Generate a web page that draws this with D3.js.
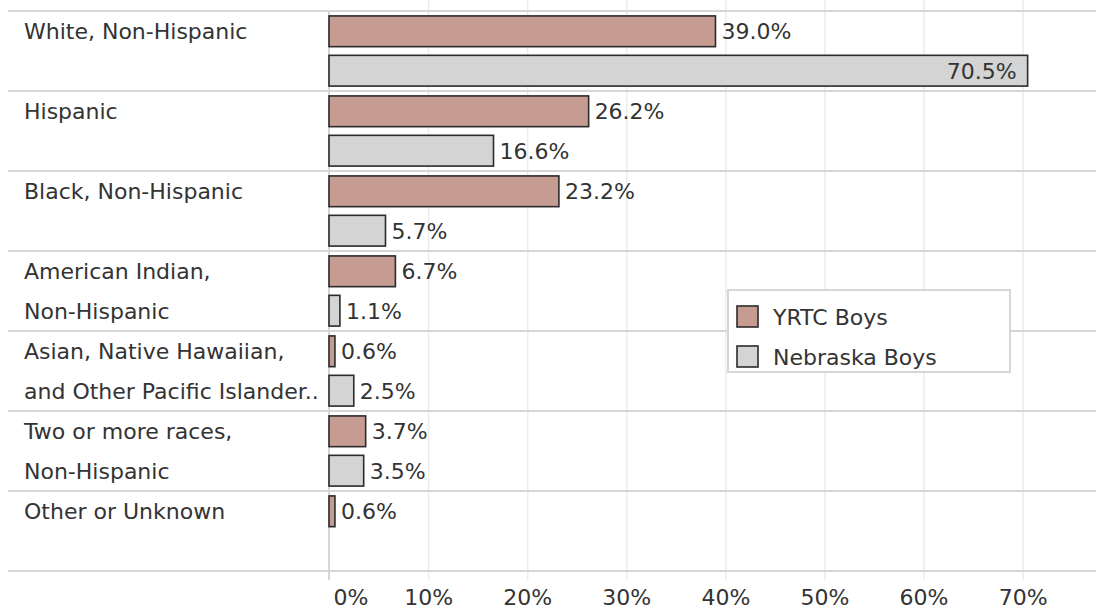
<!DOCTYPE html>
<html>
<head>
<meta charset="utf-8">
<script src="https://cdn.jsdelivr.net/npm/d3@7"></script>
<style>
  html, body { margin: 0; padding: 0; background: #ffffff; }
  svg { display: block; font-family: "DejaVu Sans", sans-serif; }
</style>
</head>
<body>
<svg id="chart" width="1096" height="612"></svg>
<script>
// ---- data ----
const categories = [
  "White, Non-Hispanic",
  "Hispanic",
  "Black, Non-Hispanic",
  "American Indian,\nNon-Hispanic",
  "Asian, Native Hawaiian,\nand Other Pacific Islander..",
  "Two or more races,\nNon-Hispanic",
  "Other or Unknown"
];
const seriesNames = ["YRTC Boys", "Nebraska Boys"];
const yrtcValues = [39.0, 26.2, 23.2, 6.7, 0.6, 3.7, 0.6];
const nebraskaValues = [70.5, 16.6, 5.7, 1.1, 2.5, 3.5, null];
const tickValues = [0, 10, 20, 30, 40, 50, 60, 70];
const seriesColors = ["#c59b92", "#d4d4d4"];

// ---- layout ----
const W = 1096, H = 612;
const fontSize = 22;
const textColor = "#333333";
const svg = d3.select("#chart");

const x = d3.scaleLinear().domain([0, 77.4]).range([329, 1096]);
const y = d3.scaleBand().domain(categories).range([11, 571]);
const ySub = d3.scaleBand().domain(seriesNames).range([0, y.bandwidth()])
  .paddingInner(0.22).paddingOuter(0.125);
const color = d3.scaleOrdinal().domain(seriesNames).range(seriesColors);

const rows = categories.map((c, i) => ({
  cat: c,
  values: [
    { s: seriesNames[0], v: yrtcValues[i] },
    { s: seriesNames[1], v: nebraskaValues[i] }
  ]
}));

// gridlines (via axis)
const grid = svg.append("g")
  .attr("transform", "translate(0,580)")
  .call(d3.axisBottom(x).tickValues(tickValues.slice(1)).tickSize(-580).tickFormat(""));
grid.select(".domain").remove();
grid.selectAll("line").attr("stroke", "#ececec").attr("stroke-width", 1.5);

// row separators
svg.append("g").selectAll("line")
  .data(categories.map(c => y(c)).concat([y.range()[1]]))
  .join("line")
  .attr("x1", 8).attr("x2", W)
  .attr("y1", d => d).attr("y2", d => d)
  .attr("stroke", "#d6d6d6").attr("stroke-width", 2);

// zero line
svg.append("line")
  .attr("x1", x(0)).attr("x2", x(0))
  .attr("y1", 11).attr("y2", 580)
  .attr("stroke", "#d6d6d6").attr("stroke-width", 2);

// category labels
const catG = svg.append("g");
categories.forEach(c => {
  const lines = c.split("\n");
  lines.forEach((ln, k) => {
    catG.append("text")
      .attr("x", 24)
      .attr("y", y(c) + ySub(seriesNames[k]) + ySub.bandwidth() / 2 + 8)
      .attr("font-size", fontSize)
      .attr("fill", textColor)
      .text(ln);
  });
});

// bars
const rowG = svg.append("g").selectAll("g")
  .data(rows).join("g")
  .attr("transform", d => `translate(0,${y(d.cat)})`);

rowG.selectAll("rect")
  .data(d => d.values.filter(v => v.v !== null))
  .join("rect")
  .attr("x", x(0))
  .attr("y", d => ySub(d.s))
  .attr("width", d => x(d.v) - x(0))
  .attr("height", ySub.bandwidth())
  .attr("fill", d => color(d.s))
  .attr("stroke", "#2b2b2b")
  .attr("stroke-width", 1.6);

rowG.selectAll("text.val")
  .data(d => d.values.filter(v => v.v !== null))
  .join("text")
  .attr("class", "val")
  .attr("font-size", fontSize)
  .attr("fill", textColor)
  .attr("y", d => ySub(d.s) + ySub.bandwidth() / 2 + 8)
  .text(d => d3.format(".1f")(d.v) + "%")
  .each(function(d) {
    const t = d3.select(this);
    const w = this.getComputedTextLength();
    const xe = x(d.v);
    if (xe + 6 + w > W) {
      t.attr("x", xe - 11).attr("text-anchor", "end");
    } else {
      t.attr("x", xe + 6).attr("text-anchor", "start");
    }
  });

// x axis labels
const ax = svg.append("g")
  .attr("transform", "translate(0,580)")
  .call(d3.axisBottom(x).tickValues(tickValues).tickSize(0).tickPadding(0)
    .tickFormat(d => d + "%"));
ax.select(".domain").remove();
ax.selectAll("text")
  .attr("font-size", fontSize)
  .attr("font-family", "DejaVu Sans, sans-serif")
  .attr("fill", textColor)
  .attr("dy", null)
  .attr("y", 25)
  .each(function(d) {
    if (d === 0) d3.select(this).attr("text-anchor", "start").attr("x", 4);
  });

// legend
const lg = svg.append("g").attr("transform", "translate(728,290)");
lg.append("rect")
  .attr("width", 282).attr("height", 82)
  .attr("fill", "#ffffff").attr("stroke", "#d6d6d6").attr("stroke-width", 2);
const li = lg.selectAll("g.item").data(seriesNames).join("g")
  .attr("class", "item")
  .attr("transform", (d, i) => `translate(9,${16 + i * 40})`);
li.append("rect")
  .attr("width", 21).attr("height", 21)
  .attr("fill", d => color(d))
  .attr("stroke", "#2b2b2b").attr("stroke-width", 1.6);
li.append("text")
  .attr("x", 36).attr("y", 18.5)
  .attr("font-size", fontSize)
  .attr("fill", textColor)
  .text(d => d);
</script>
</body>
</html>
